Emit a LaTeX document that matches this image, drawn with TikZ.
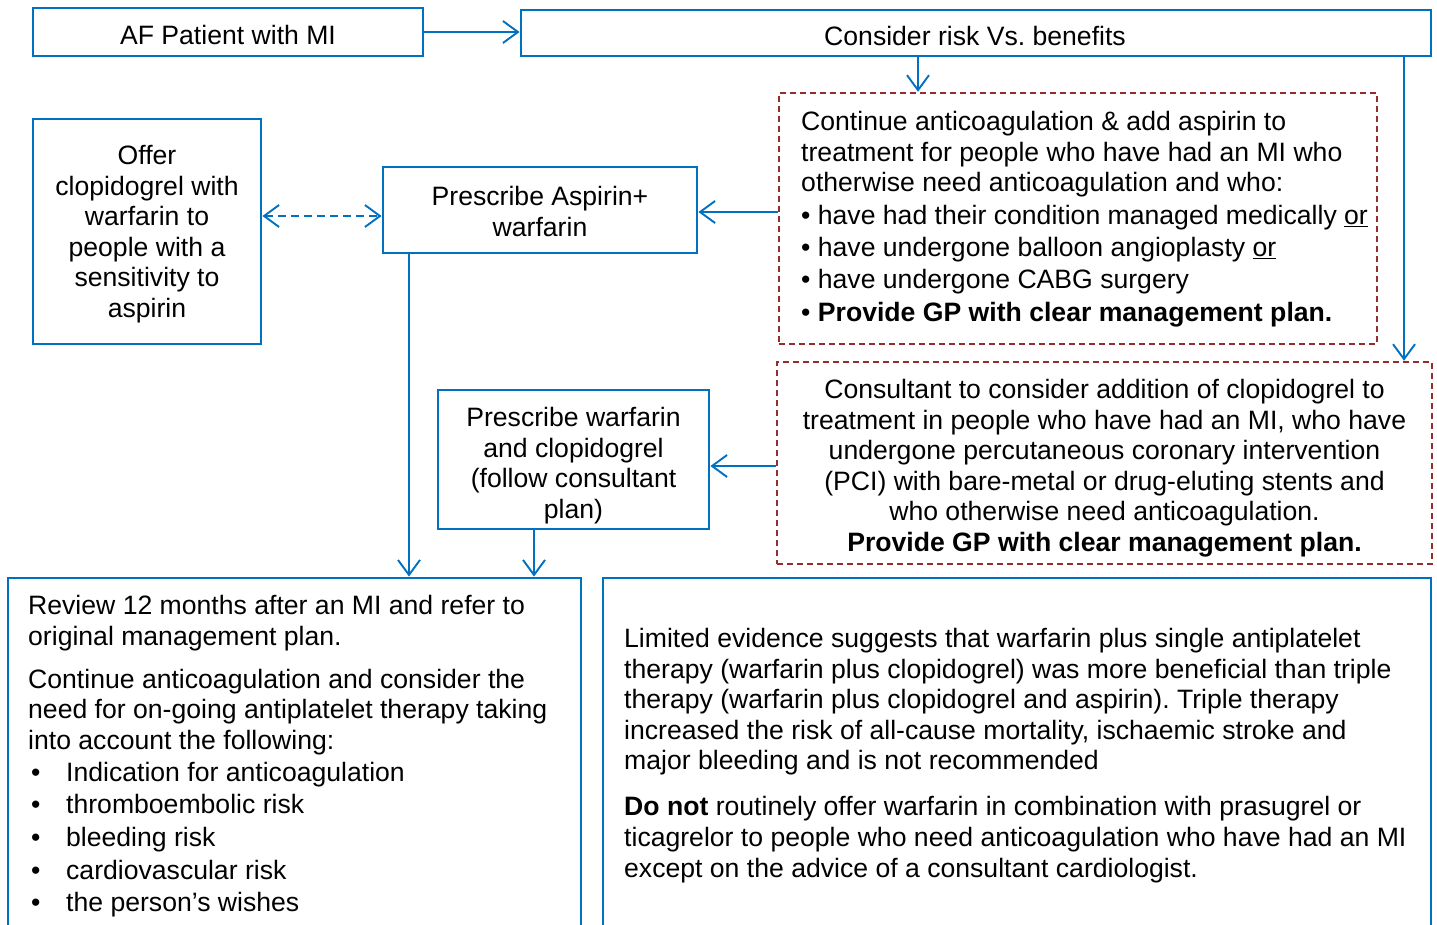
\documentclass[tikz,border=0pt]{standalone}
\usepackage{fontspec}
\setmainfont{Liberation Sans}
\usetikzlibrary{arrows.meta}
\definecolor{nblue}{RGB}{0,112,192}
\definecolor{nred}{RGB}{150,45,45}
\newcommand\hbul{\makebox[38pt][l]{\hspace{3pt}\textbullet}}
\frenchspacing
\begin{document}
\begin{tikzpicture}[x=1pt,y=-1pt,
  bluebox/.style={draw=nblue,line width=2.9pt,inner sep=0pt},
  redbox/.style={draw=nred,line width=2.5pt,dash pattern=on 6pt off 4pt,inner sep=0pt},
  txt/.style={inner sep=0pt,font=\fontsize{26.6}{30.6}\selectfont},
  arr/.style={draw=nblue,line width=1.9pt,-{Straight Barb[length=15pt,width=22pt]}},
  darr/.style={draw=nblue,line width=1.9pt,dash pattern=on 8pt off 5pt,{Straight Barb[length=15pt,width=22pt]}-{Straight Barb[length=15pt,width=22pt]}},
]
\useasboundingbox (0,0) rectangle (1437,924);
\clip (0,0) rectangle (1437,924);

% boxes
\node[bluebox,minimum width=390pt,minimum height=48pt] (A) at (228,32) {};
\node[bluebox,minimum width=910pt,minimum height=46pt] (B) at (976,33) {};
\node[redbox,minimum width=598pt,minimum height=251pt] (C) at (1078,218.5) {};
\node[redbox,minimum width=655pt,minimum height=202pt] (D) at (1104.5,463) {};
\node[bluebox,minimum width=314pt,minimum height=86pt] (E) at (540,210) {};
\node[bluebox,minimum width=228pt,minimum height=225pt] (F) at (147,231.5) {};
\node[bluebox,minimum width=271pt,minimum height=139pt] (G) at (573.5,459.5) {};
\node[bluebox,minimum width=573pt,minimum height=422pt] (H) at (294.5,789) {};
\node[bluebox,minimum width=828pt,minimum height=422pt] (I) at (1017,789) {};

% texts
\node[txt,anchor=north] (tA) at (228,25) {AF Patient with MI};
\node[txt,anchor=north] (tB) at (975,26) {Consider risk Vs. benefits};
\node[txt,anchor=north west,align=left] (tC) at (801,111) {Continue anticoagulation \& add aspirin to\\
treatment for people who have had an MI who\\
otherwise need anticoagulation and who:\\[1.8pt]
\textbullet\ have had their condition managed medically \underline{or}\\[1.8pt]
\textbullet\ have undergone balloon angioplasty \underline{or}\\[1.8pt]
\textbullet\ have undergone CABG surgery\\[1.8pt]
\textbullet\ \textbf{Provide GP with clear management plan.}};
\node[txt,anchor=north,align=center] (tD) at (1104.5,379) {Consultant to consider addition of clopidogrel to\\
treatment in people who have had an MI, who have\\
undergone percutaneous coronary intervention\\
(PCI) with bare-metal or drug-eluting stents and\\
who otherwise need anticoagulation.\\
\textbf{Provide GP with clear management plan.}};
\node[txt,anchor=north,align=center] (tE) at (540,186) {Prescribe Aspirin+\\warfarin};
\node[txt,anchor=north,align=center] (tF) at (147,145) {Offer\\clopidogrel with\\warfarin to\\people with a\\sensitivity to\\aspirin};
\node[txt,anchor=north,align=center] (tG) at (573.5,407) {Prescribe warfarin\\and clopidogrel\\(follow consultant\\plan)};
\node[txt,anchor=north west,align=left] (tH) at (28,595) {Review 12 months after an MI and refer to\\
original management plan.\\[12.4pt]
Continue anticoagulation and consider the\\
need for on-going antiplatelet therapy taking\\
into account the following:\\[1.4pt]
\hbul Indication for anticoagulation\\[2pt]
\hbul thromboembolic risk\\[2pt]
\hbul bleeding risk\\[2pt]
\hbul cardiovascular risk\\[2pt]
\hbul the person’s wishes};
\node[txt,anchor=north west,align=left] (tI) at (624,628) {Limited evidence suggests that warfarin plus single antiplatelet\\
therapy (warfarin plus clopidogrel) was more beneficial than triple\\
therapy (warfarin plus clopidogrel and aspirin). Triple therapy\\
increased the risk of all-cause mortality, ischaemic stroke and\\
major bleeding and is not recommended\\[15.4pt]
\textbf{Do not} routinely offer warfarin in combination with prasugrel or\\
ticagrelor to people who need anticoagulation who have had an MI\\
except on the advice of a consultant cardiologist.};

% connector helpers
\coordinate (bcx) at (918,0);
\coordinate (bdx) at (1404,0);
\coordinate (cey) at (0,212);
\coordinate (fey) at (0,216);
\coordinate (dgy) at (0,466);
\coordinate (ehx) at (409,0);
\coordinate (ghx) at (534,0);

% connectors
\draw[arr] (A.east) -- (A.east -| B.west);
\draw[arr] (B.south -| bcx) -- (C.north -| bcx);
\draw[arr] (B.south -| bdx) -- (D.north -| bdx);
\draw[arr] (C.west |- cey) -- (E.east |- cey);
\draw[darr] (F.east |- fey) -- (E.west |- fey);
\draw[arr] (D.west |- dgy) -- (G.east |- dgy);
\draw[arr] (E.south -| ehx) -- (H.north -| ehx);
\draw[arr] (G.south -| ghx) -- (H.north -| ghx);
\end{tikzpicture}
\end{document}
